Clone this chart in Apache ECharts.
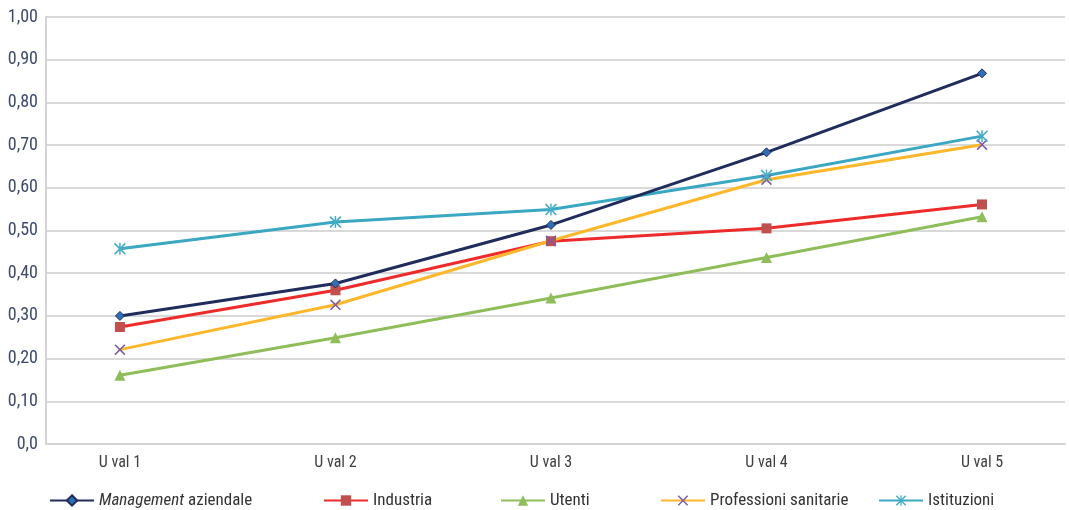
<!DOCTYPE html>
<html><head><meta charset="utf-8">
<script src="https://cdn.jsdelivr.net/npm/echarts@6/dist/echarts.min.js"></script>
<style>html,body{margin:0;padding:0;background:#fff}#c{width:1069px;height:510px}</style>
</head><body><div id="c"></div>
<script>
var categories = ['U val 1','U val 2','U val 3','U val 4','U val 5'];
var yTickLabels = ['0,0','0,10','0,20','0,30','0,40','0,50','0,60','0,70','0,80','0,90','1,00'];
var management = [0.300, 0.376, 0.513, 0.683, 0.868];
var industria = [0.274, 0.360, 0.475, 0.505, 0.561];
var utenti = [0.161, 0.249, 0.342, 0.437, 0.532];
var professioni = [0.221, 0.326, 0.476, 0.619, 0.701];
var istituzioni = [0.457, 0.520, 0.549, 0.629, 0.721];

var FONT = "'Roboto Condensed','Roboto',sans-serif";
var xSym = 'path://M0,1 L1,0 L10,9 L9,10 Z M9,0 L10,1 L1,10 L0,9 Z';
var starSym = 'path://M0,1 L1,0 L10,9 L9,10 Z M9,0 L10,1 L1,10 L0,9 Z M4.4,0 L5.6,0 L5.6,10 L4.4,10 Z';
function pts(a){ return a.map(function(v,i){ return [i,v]; }); }
function mk(name, data, lineColor, sym, symSize, symColor, border){
  return {
    name: name, type: 'line', data: pts(data),
    symbol: sym, symbolSize: symSize, showSymbol: true,
    lineStyle: {color: lineColor, width: 3},
    itemStyle: {color: symColor, borderColor: border || symColor, borderWidth: border ? 1 : 0},
    emphasis: {disabled: true}, z: 2
  };
}
var series = [
  mk('Management aziendale', management, '#1f2c5c', 'diamond', 9, '#2f6fb8', '#1f2c5c'),
  mk('Industria', industria, '#ee2b2b', 'rect', 10, '#c0504d'),
  mk('Utenti', utenti, '#8fbd5a', 'triangle', 11, '#8fbd5a'),
  mk('Professioni sanitarie', professioni, '#fdb72a', xSym, 11, '#7b5da6'),
  mk('Istituzioni', istituzioni, '#3aa7c3', starSym, 12, '#45adc8')
];
series[0].z = 3;

var legendLefts = [44, 318, 495, 655, 873];
var legends = series.map(function(s, i){
  return {
    data: [s.name], left: legendLefts[i], top: 487,
    itemWidth: 44, itemHeight: 13, itemGap: 7,
    selectedMode: false,
    textStyle: {fontFamily: FONT, fontSize: 17, color: '#333',
      rich: {i: {fontFamily: FONT, fontSize: 17, fontStyle: 'italic', color: '#333'}}},
    formatter: function(n){ return n === 'Management aziendale' ? '{i|Management} aziendale' : n; }
  };
});

var chart = echarts.init(document.getElementById('c'));
chart.setOption({
  animation: false,
  backgroundColor: '#fff',
  grid: {left: 46, right: 4, top: 17, bottom: 66, containLabel: false},
  legend: legends,
  xAxis: {
    type: 'value', min: -0.343, max: 4.385,
    axisLine: {show: true, onZero: false, lineStyle: {color: '#d4d4d4', width: 2}},
    axisTick: {show: false},
    splitLine: {show: false},
    axisLabel: {
      customValues: [0,1,2,3,4],
      formatter: function(v){ return categories[Math.round(v)]; },
      fontFamily: FONT, fontSize: 16, color: '#404040', margin: 11
    }
  },
  yAxis: {
    type: 'value', min: 0, max: 1, interval: 0.1,
    axisLine: {show: true, onZero: false, lineStyle: {color: '#d4d4d4', width: 2}},
    axisTick: {show: false},
    splitLine: {show: true, lineStyle: {color: '#d9d9d9', width: 2}},
    axisLabel: {
      formatter: function(v){ return yTickLabels[Math.round(v*10)]; },
      fontFamily: FONT, fontSize: 18, color: '#3d4a6b', margin: 8
    }
  },
  series: series
});
</script></body></html>
